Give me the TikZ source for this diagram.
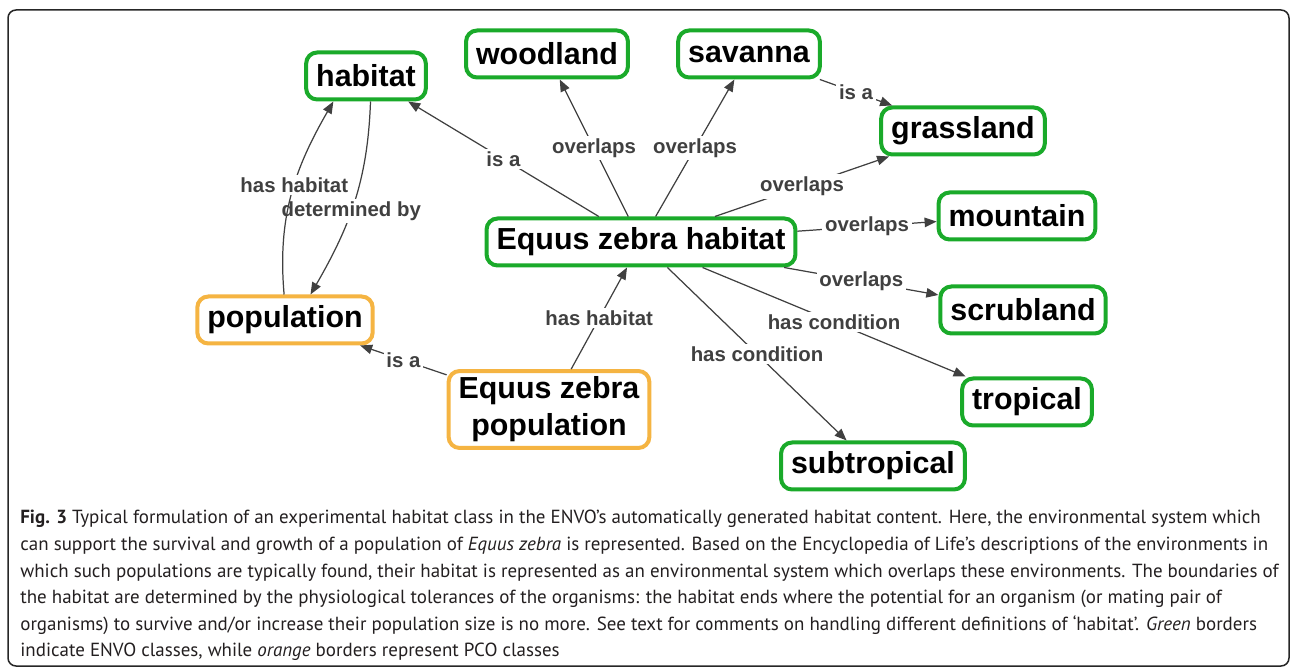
\documentclass[tikz,border=0pt]{standalone}
\usepackage{fontspec}
\usepackage{xcolor}
\usepackage{tikz}
\usetikzlibrary{arrows.meta}
\newfontfamily\diagfont{Liberation Sans}
\newfontfamily\capfont{PT Sans}
\definecolor{envogreen}{RGB}{26,170,42}
\definecolor{pcoorange}{RGB}{245,180,66}
\definecolor{reldark}{RGB}{64,64,64}
\definecolor{capgray}{RGB}{35,31,32}

\begin{document}
\begin{tikzpicture}[box/.style = {draw, rounded corners=0.22cm, line width=0.08cm, fill=white, inner xsep=0.2cm, minimum height=0.94cm, font=\diagfont\bfseries\fontsize{17.3}{21}\selectfont},
envo/.style = {box, draw=envogreen},
pco/.style = {box, draw=pcoorange},
lbl/.style = {fill=white, inner sep=1.5pt, text=reldark, font=\diagfont\bfseries\fontsize{11.6}{13}\selectfont},
rel/.style = {draw=reldark, line width=0.7pt, -{Triangle[length=0.24cm,width=0.19cm]}}, scale = 1
]
\useasboundingbox (0,0) rectangle (25.8,13.36);
\draw[line width=0.03cm, draw=black!85, rounded corners=0.16cm] (0.16,13.16) rectangle (25.78,0.04);
% classes
\node[envo] (hab) at (7.32,11.84) {habitat};
\node[envo] (wood) at (10.94,12.28) {woodland};
\node[envo] (sav) at (14.98,12.28) {savanna};
\node[envo] (grass) at (19.26,10.74) {grassland};
\node[envo] (mount) at (20.34,9.04) {mountain};
\node[envo] (ezh) at (12.82,8.52) {Equus zebra habitat};
\node[envo] (scrub) at (20.46,7.16) {scrubland};
\node[envo] (trop) at (20.54,5.32) {tropical};
\node[envo] (subtrop) at (17.46,4.04) {subtropical};
\node[pco] (pop) at (5.70,6.96) {population};
\node[pco, align=center] (ezp) at (10.98,5.17) {Equus zebra\\population};
% relations
\foreach \i/\j/\k in {ezh/hab/is a, ezh/wood/overlaps, ezh/sav/overlaps, ezh/grass/overlaps, ezh/mount/overlaps, ezh/scrub/overlaps, ezh/trop/has condition, ezh/subtrop/has condition, sav/grass/is a, ezp/ezh/has habitat, ezp/pop/is a}{\draw[rel] (\i) --node[lbl, midway]{\k} (\j);}
\draw[rel] (hab.280) to[out=268, in=60] node[lbl, pos=0.55]{determined by} (pop.45);
\draw[rel] (pop.92) to[out=95, in=240] node[lbl, pos=0.55]{has habitat} (hab.218);
% caption
\node[anchor=north west, inner sep=0, align=left, text=capgray, font=\capfont\fontsize{10.8}{15.15}\selectfont] (cap) at (0.40,3.16) {\textbf{Fig. 3} Typical formulation of an experimental habitat class in the ENVO’s automatically generated habitat content. Here, the environmental system which\\
can support the survival and growth of a population of \textit{Equus zebra} is represented. Based on the Encyclopedia of Life’s descriptions of the environments in\\
which such populations are typically found, their habitat is represented as an environmental system which overlaps these environments. The boundaries of\\
the habitat are determined by the physiological tolerances of the organisms: the habitat ends where the potential for an organism (or mating pair of\\
organisms) to survive and/or increase their population size is no more. See text for comments on handling different definitions of ‘habitat’. \textit{Green} borders\\
indicate ENVO classes, while \textit{orange} borders represent PCO classes};
\end{tikzpicture}
\end{document}
